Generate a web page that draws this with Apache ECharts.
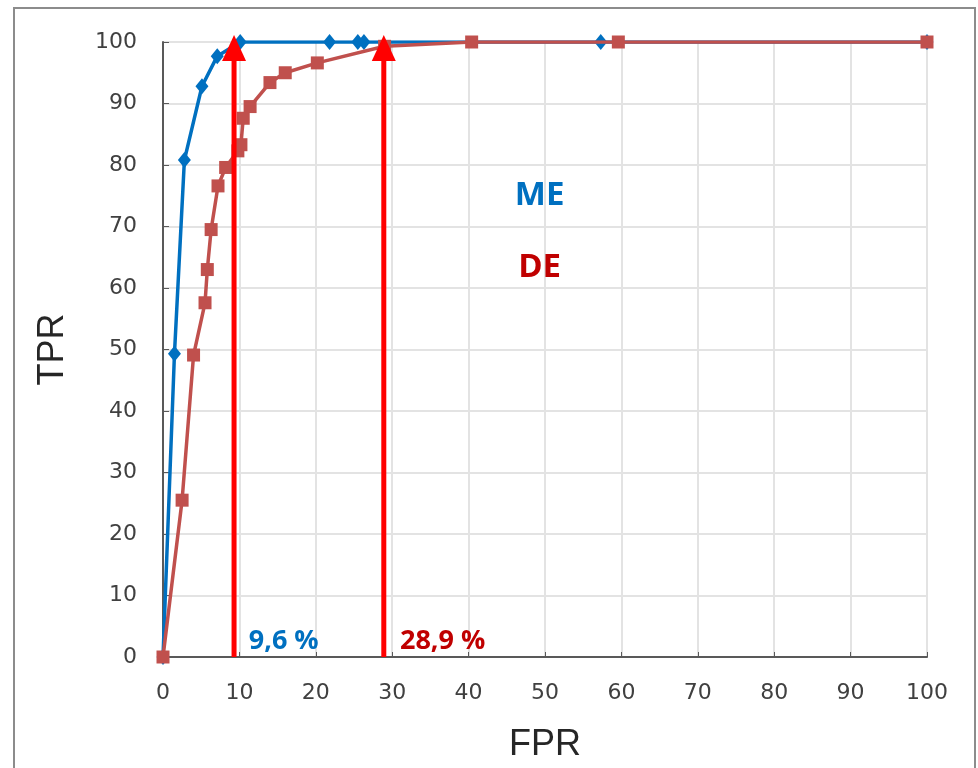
<!DOCTYPE html>
<html>
<head>
<meta charset="utf-8">
<script src="https://cdn.jsdelivr.net/npm/echarts@6/dist/echarts.min.js"></script>
<style>html,body{margin:0;padding:0;background:#fff}#c{width:978px;height:768px}</style>
</head>
<body>
<div id="c"></div>
<script>
const xTicks = [0,10,20,30,40,50,60,70,80,90,100];
const yTicks = [0,10,20,30,40,50,60,70,80,90,100];
const meFPR = [0,1.5,2.8,5.1,7.1,10.1,21.8,25.5,26.3,57.3,100];
const meTPR = [0,49.3,80.8,92.8,97.7,100,100,100,100,100,100];
const deFPR = [0,2.5,4.0,5.5,5.8,6.3,7.2,8.2,9.8,10.2,10.5,11.4,14,16,20.2,29,40.4,59.6,100];
const deTPR = [0,25.5,49.1,57.6,63,69.5,76.6,79.6,82.3,83.3,87.6,89.5,93.4,95,96.6,99.3,100,100,100];
const arrowX = [9.3, 28.9];
const arrowLabels = ['9,6 %', '28,9 %'];
const seriesNames = ['ME', 'DE'];

const blue = '#0070C0', red = '#C0504D', darkRed = '#C00000', arrowRed = '#FF0000';
const zip = (a,b) => a.map((v,i)=>[v,b[i]]);

const chart = echarts.init(document.getElementById('c'));
const axisLabel = {color:'#404040', fontSize:22, fontFamily:'DejaVu Sans, sans-serif'};
function arrowSeries(x){
  return {
    type:'line', data:[[x,0],[x,100]], z:5,
    lineStyle:{color:arrowRed, width:5},
    symbol:(v,p)=> p.dataIndex===1 ? 'triangle' : 'none',
    symbolSize:[24,26], symbolOffset:[0,6],
    itemStyle:{color:arrowRed}, silent:true, animation:false
  };
}
chart.setOption({
  animation:false,
  graphic:[{type:'rect', shape:{x:14,y:8,width:961,height:780}, style:{fill:'none', stroke:'#8c8c8c', lineWidth:2}, z:-1}],
  grid:{left:163, right:51, top:42, bottom:111},
  xAxis:{type:'value', min:0, max:100, interval:10,
    name:'FPR', nameLocation:'middle', nameGap:70,
    nameTextStyle:{fontSize:36, color:'#262626', fontFamily:'Liberation Sans, Arial, sans-serif'},
    axisLine:{show:true, lineStyle:{color:'#595959', width:2}},
    axisTick:{show:true, inside:true, length:5, lineStyle:{color:'#595959'}},
    axisLabel:Object.assign({margin:25, formatter:v=>xTicks.includes(v)?String(v):''}, axisLabel),
    splitLine:{show:true, lineStyle:{color:'#e3e3e3', width:2}}},
  yAxis:{type:'value', min:0, max:100, interval:10,
    name:'TPR', nameLocation:'middle', nameGap:92, nameRotate:90,
    nameTextStyle:{fontSize:36, color:'#262626', fontFamily:'Liberation Sans, Arial, sans-serif'},
    axisLine:{show:true, lineStyle:{color:'#595959', width:2}},
    axisTick:{show:true, inside:true, length:6, lineStyle:{color:'#595959'}},
    axisLabel:Object.assign({margin:26, formatter:v=>yTicks.includes(v)?String(v):''}, axisLabel),
    splitLine:{show:true, lineStyle:{color:'#e3e3e3', width:2}}},
  series:[
    {name:seriesNames[0], type:'line', data:zip(meFPR,meTPR), symbol:'diamond', symbolSize:[13,16],
      lineStyle:{color:blue, width:3.5}, itemStyle:{color:blue}, z:3},
    {name:seriesNames[1], type:'line', data:zip(deFPR,deTPR), symbol:'rect', symbolSize:13,
      lineStyle:{color:red, width:3.5}, itemStyle:{color:red}, z:4},
    arrowSeries(arrowX[0]),
    arrowSeries(arrowX[1]),
    {type:'scatter', symbolSize:0, z:6, silent:true, itemStyle:{opacity:1},
      data:[
        {value:[49.3,75.1], label:{formatter:seriesNames[0], color:blue, fontSize:33}},
        {value:[49.3,63.3], label:{formatter:seriesNames[1], color:darkRed, fontSize:33}},
        {value:[15.8,2.6], label:{formatter:arrowLabels[0], color:blue, fontSize:27}},
        {value:[36.6,2.6], label:{formatter:arrowLabels[1], color:darkRed, fontSize:27}}
      ],
      label:{show:true, position:'inside', fontWeight:'bold', opacity:1, fontFamily:'Open Sans, Liberation Sans, sans-serif'}}
  ]
});
</script>
</body>
</html>
